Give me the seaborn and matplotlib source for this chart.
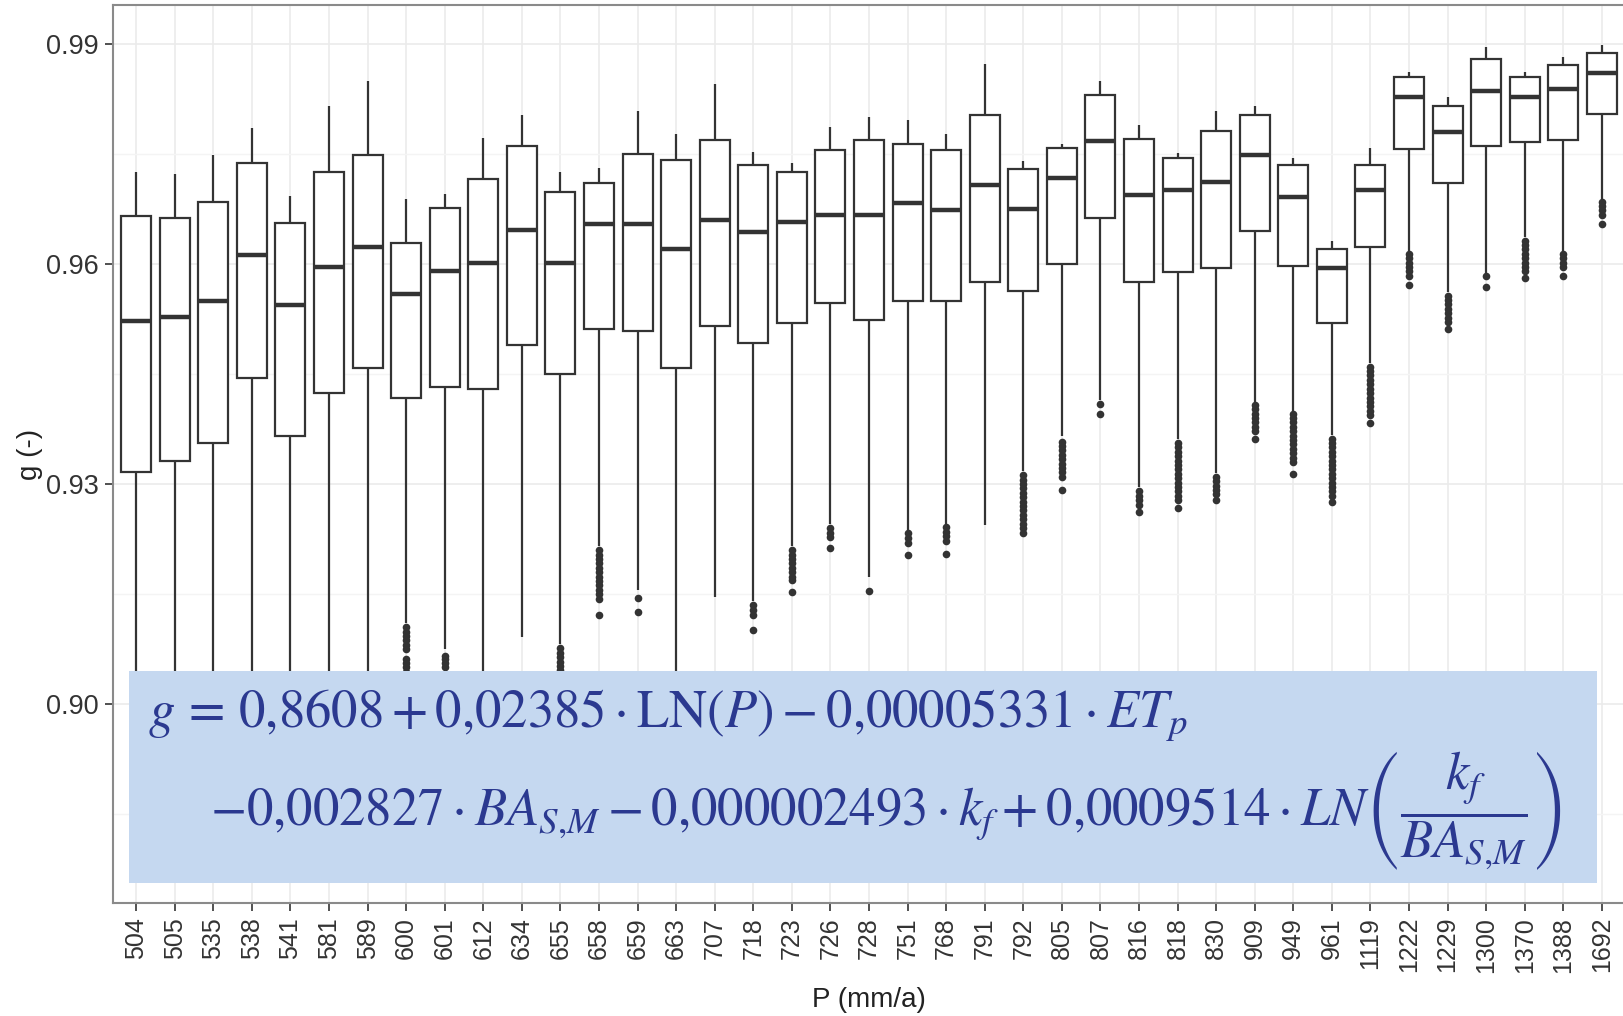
import numpy as np
import pandas as pd
import matplotlib
matplotlib.use("Agg")
import matplotlib.pyplot as plt
from matplotlib.patches import Rectangle
import seaborn as sns

# --- Daten ---
p_labels = ["504", "505", "535", "538", "541", "581", "589", "600", "601", "612",
            "634", "655", "658", "659", "663", "707", "718", "723", "726", "728",
            "751", "768", "791", "792", "805", "807", "816", "818", "830", "909",
            "949", "961", "1119", "1222", "1229", "1300", "1370", "1388", "1692"]

whisker_low = [0.885, 0.885, 0.885, 0.885, 0.885, 0.885, 0.885, 0.9110, 0.9075, 0.885,
               0.9092, 0.9082, 0.9215, 0.9155, 0.885, 0.9146, 0.9140, 0.9215, 0.9245, 0.9173,
               0.9237, 0.9245, 0.9244, 0.9318, 0.9365, 0.9415, 0.9296, 0.9362, 0.9315, 0.9412,
               0.9400, 0.9367, 0.9465, 0.9618, 0.9562, 0.9587, 0.9637, 0.9618, 0.9689]
q1 = [0.9316, 0.9331, 0.9356, 0.9445, 0.9366, 0.9424, 0.9458, 0.9418, 0.9432, 0.9429,
      0.9490, 0.9450, 0.9511, 0.9508, 0.9458, 0.9516, 0.9492, 0.9519, 0.9547, 0.9523,
      0.9550, 0.9550, 0.9576, 0.9563, 0.9600, 0.9663, 0.9576, 0.9589, 0.9595, 0.9645,
      0.9597, 0.9519, 0.9623, 0.9757, 0.9711, 0.9761, 0.9766, 0.9769, 0.9805]
median = [0.9522, 0.9528, 0.9549, 0.9612, 0.9544, 0.9596, 0.9623, 0.9559, 0.9591, 0.9601,
          0.9646, 0.9601, 0.9654, 0.9654, 0.9620, 0.9660, 0.9644, 0.9657, 0.9667, 0.9667,
          0.9683, 0.9673, 0.9707, 0.9675, 0.9717, 0.9767, 0.9694, 0.9701, 0.9712, 0.9749,
          0.9691, 0.9594, 0.9701, 0.9828, 0.9780, 0.9836, 0.9828, 0.9838, 0.9860]
q3 = [0.9666, 0.9663, 0.9685, 0.9737, 0.9656, 0.9726, 0.9748, 0.9629, 0.9676, 0.9716,
      0.9761, 0.9698, 0.9711, 0.9750, 0.9742, 0.9769, 0.9735, 0.9726, 0.9755, 0.9769,
      0.9763, 0.9755, 0.9803, 0.9729, 0.9758, 0.9831, 0.9771, 0.9745, 0.9781, 0.9803,
      0.9735, 0.9621, 0.9735, 0.9855, 0.9816, 0.9879, 0.9855, 0.9871, 0.9887]
whisker_high = [0.9725, 0.9722, 0.9748, 0.9785, 0.9693, 0.9815, 0.9849, 0.9688, 0.9696, 0.9772,
                0.9803, 0.9725, 0.9731, 0.9809, 0.9777, 0.9846, 0.9753, 0.9737, 0.9787, 0.9801,
                0.9796, 0.9777, 0.9872, 0.9741, 0.9764, 0.9849, 0.9790, 0.9751, 0.9809, 0.9816,
                0.9745, 0.9632, 0.9758, 0.9861, 0.9827, 0.9896, 0.9861, 0.9882, 0.9898]

outliers = {
    "600": [0.9105, 0.9099, 0.9093, 0.9087, 0.9081, 0.9075, 0.9062, 0.9056, 0.9050, 0.9044],
    "601": [0.9066, 0.9061, 0.9056, 0.9050],
    "655": [0.9076, 0.9070, 0.9064, 0.9058, 0.9052, 0.9047],
    "658": [0.9210, 0.9204, 0.9198, 0.9192, 0.9186, 0.9180, 0.9174, 0.9168, 0.9162,
            0.9156, 0.9150, 0.9144, 0.9121],
    "659": [0.9145, 0.9125],
    "718": [0.9135, 0.9128, 0.9121, 0.9101],
    "723": [0.9210, 0.9204, 0.9198, 0.9192, 0.9186, 0.9180, 0.9174, 0.9169, 0.9153],
    "726": [0.9240, 0.9234, 0.9228, 0.9213],
    "728": [0.9154],
    "751": [0.9233, 0.9227, 0.9220, 0.9203],
    "768": [0.9241, 0.9235, 0.9229, 0.9222, 0.9205],
    "792": [0.9312, 0.9306, 0.9300, 0.9294, 0.9288, 0.9282, 0.9276, 0.9270, 0.9264,
            0.9258, 0.9252, 0.9246, 0.9240, 0.9234],
    "805": [0.9358, 0.9352, 0.9346, 0.9340, 0.9334, 0.9328, 0.9322, 0.9316, 0.9310, 0.9292],
    "807": [0.9409, 0.9396],
    "816": [0.9290, 0.9284, 0.9278, 0.9272, 0.9262],
    "818": [0.9356, 0.9350, 0.9344, 0.9338, 0.9332, 0.9326, 0.9320, 0.9314, 0.9308,
            0.9302, 0.9296, 0.9290, 0.9284, 0.9278, 0.9267],
    "830": [0.9310, 0.9304, 0.9298, 0.9292, 0.9286, 0.9278],
    "909": [0.9408, 0.9402, 0.9396, 0.9390, 0.9384, 0.9378, 0.9372, 0.9362],
    "949": [0.9396, 0.9390, 0.9384, 0.9378, 0.9372, 0.9366, 0.9360, 0.9354, 0.9348,
            0.9342, 0.9336, 0.9330, 0.9314],
    "961": [0.9362, 0.9356, 0.9350, 0.9344, 0.9338, 0.9332, 0.9326, 0.9320, 0.9314,
            0.9308, 0.9302, 0.9296, 0.9290, 0.9284, 0.9275],
    "1119": [0.9460, 0.9454, 0.9448, 0.9442, 0.9436, 0.9430, 0.9424, 0.9418, 0.9412,
             0.9406, 0.9400, 0.9394, 0.9383],
    "1222": [0.9614, 0.9608, 0.9602, 0.9596, 0.9590, 0.9584, 0.9571],
    "1229": [0.9557, 0.9551, 0.9545, 0.9539, 0.9533, 0.9527, 0.9521, 0.9512],
    "1300": [0.9583, 0.9569],
    "1370": [0.9632, 0.9626, 0.9620, 0.9614, 0.9608, 0.9602, 0.9596, 0.9590, 0.9581],
    "1388": [0.9614, 0.9608, 0.9602, 0.9596, 0.9584],
    "1692": [0.9685, 0.9679, 0.9673, 0.9667, 0.9655],
}

y_ticks = [0.90, 0.93, 0.96, 0.99]
y_minor = [0.885, 0.915, 0.945, 0.975]

eq_line1 = r"$g\,=\,0{,}8608 + 0{,}02385 \cdot \mathrm{LN}(P) - 0{,}00005331 \cdot ET_p$"
eq_line2 = (r"$-0{,}002827 \cdot BA_{S{,}M} - 0{,}000002493 \cdot k_f + 0{,}0009514 \cdot "
            r"LN\left(\dfrac{k_f}{BA_{S{,}M}}\right)$")

# --- Long-Format fuer seaborn ---
rows = []
for i, lab in enumerate(p_labels):
    for v in (whisker_low[i], q1[i], median[i], q3[i], whisker_high[i]):
        rows.append((lab, v))
box_df = pd.DataFrame(rows, columns=["P", "g"])
out_df = pd.DataFrame([(k, v) for k, vals in outliers.items() for v in vals], columns=["P", "g"])

sns.set_theme(style="white")
plt.rcParams["font.family"] = ["Liberation Sans", "DejaVu Sans"]
plt.rcParams["mathtext.fontset"] = "stix"

W, H = 1623, 1016
fig = plt.figure(figsize=(W / 100, H / 100), dpi=100)
ax = fig.add_axes([113 / W, 1 - 903 / H, (1625 - 113) / W, (903 - 5) / H])

sns.boxplot(data=box_df, x="P", y="g", order=p_labels, color="white", linecolor="#333333",
            linewidth=1.6, width=0.78, whis=(0, 100), showfliers=False, showcaps=False,
            saturation=1, medianprops=dict(linewidth=3.2), ax=ax)
sns.stripplot(data=out_df, x="P", y="g", order=p_labels, jitter=False, color="#333333",
              size=5.5, linewidth=0, ax=ax)

ax.set_xlim(-0.6, len(p_labels) - 0.4)
ax.set_ylim(0.8729, 0.9953)
ax.set_yticks(y_ticks)
ax.set_yticklabels([f"{t:.2f}" for t in y_ticks])
ax.set_yticks(y_minor, minor=True)
ax.set_axisbelow(True)
ax.grid(True, which="major", color="#EBEBEB", linewidth=1.2)
ax.grid(True, which="minor", axis="y", color="#F4F4F4", linewidth=1.0)
ax.tick_params(axis="x", labelrotation=90, labelsize=18, labelcolor="#333333",
               length=6, width=1.2, color="#333333", pad=4, bottom=True)
ax.tick_params(axis="y", labelsize=19.5, labelcolor="#333333", length=6, width=1.2,
               color="#333333", pad=4, left=True)
ax.tick_params(axis="y", which="minor", length=0)
for s in ax.spines.values():
    s.set_color("#8A8A8A")
    s.set_linewidth(1.5)
ax.set_xlabel("")
ax.set_ylabel("")

fig.text(30 / W, 1 - 454 / H, "g (-)", rotation=90, ha="center", va="center",
         fontsize=20, color="#222222")
fig.text(869 / W, 1 - 1000 / H, "P (mm/a)", ha="center", va="center",
         fontsize=20, color="#222222")

# Gleichung im blauen Kasten
fig.add_artist(Rectangle((129 / W, 1 - 883 / H), (1597 - 129) / W, (883 - 671) / H,
                         transform=fig.transFigure, facecolor="#C5D8F0", edgecolor="none",
                         zorder=5))
fig.text(148 / W, 1 - 727 / H, eq_line1, ha="left", va="baseline", fontsize=38,
         color="#2B3990", zorder=6)
fig.text(210 / W, 1 - 826 / H, eq_line2, ha="left", va="baseline", fontsize=38,
         color="#2B3990", zorder=6)

fig.savefig("out.png", dpi=100)
